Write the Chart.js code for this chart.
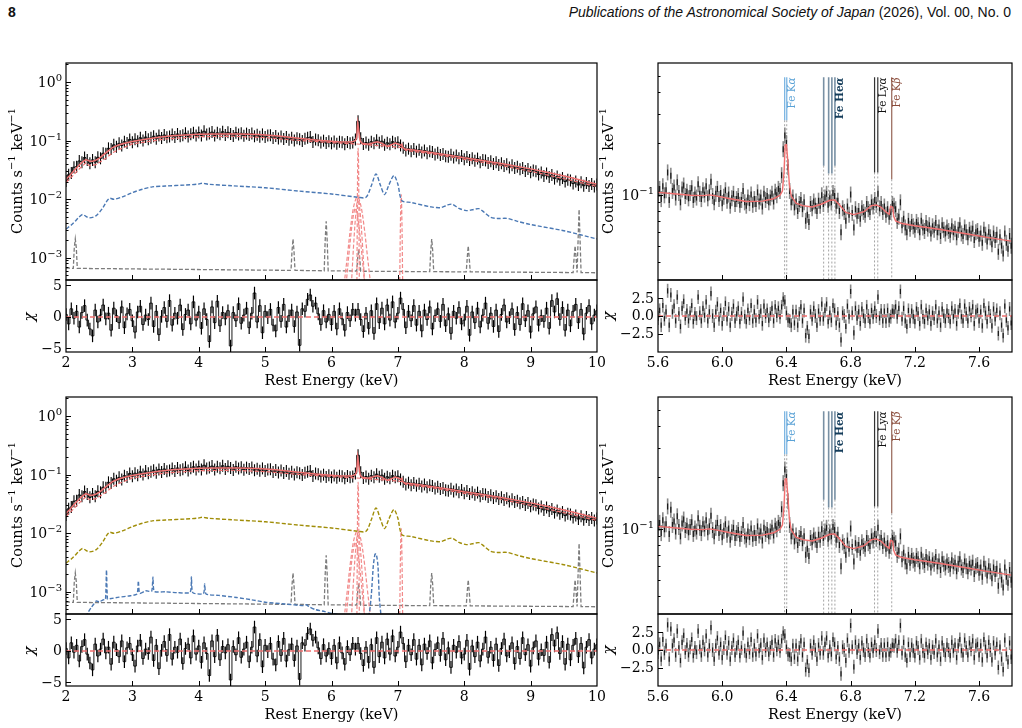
<!DOCTYPE html>
<html><head><meta charset="utf-8">
<script src="https://cdn.jsdelivr.net/npm/chart.js@4.4.1/dist/chart.umd.min.js"></script>
<style>
html,body{margin:0;padding:0;background:#fff;}
body{width:1022px;height:728px;position:relative;overflow:hidden;}
canvas{position:absolute;left:0;top:0;}
.hd{position:absolute;top:4px;font-family:"Liberation Sans",Arial,sans-serif;font-size:14px;color:#111;white-space:nowrap;}
</style></head><body>
<div class="hd" style="left:8px;font-weight:bold;">8</div>
<div class="hd" style="right:11px;"><i>Publications of the Astronomical Society of Japan</i> (2026), Vol. 00, No. 0</div>
<script>
// ===================== DATA =====================
// count-rate arrays are in units of 1e-4 counts s^-1 keV^-1
const U = 1e-4;

// broad-band spectrum 2-10 keV, 0.04 keV bins
const specStart = 2.0, specBin = 0.04;
const specCounts = [205,262,280,352,360,450,430,515,470,410,
470,430,520,500,610,600,740,720,850,790,
900,830,960,910,1050,940,1060,980,1120,1010,
1150,1060,1120,1190,1080,1230,1110,1250,1140,1180,
1270,1150,1300,1190,1240,1340,1180,1290,1360,1220,
1380,1230,1450,1270,1330,1400,1220,1360,1290,1420,
1250,1390,1300,1200,1370,1280,1340,1210,1320,1250,
1320,1190,1260,1170,1280,1150,1230,1240,1110,1200,
1090,1180,1070,1150,1040,1120,1010,1100,1060,990,
1080,1120,1150,950,1050,1020,930,1000,910,980,
900,970,890,960,940,870,950,900,930,1050,
2150,1100,880,930,850,960,900,1020,920,980,
850,920,870,960,900,940,830,760,680,730,
660,720,650,700,630,680,610,660,640,580,
620,570,590,540,530,575,515,560,500,545,
480,525,470,500,455,495,430,470,460,415,
445,400,430,385,410,370,395,350,380,340,
360,325,340,305,330,290,310,300,265,285,
250,275,240,260,225,245,215,230,200,215,
210,185,200,175,195,170,190,168,182,165,178];
const specChi = [0.4,-1.1,1.3,-0.2,0.9,-1.6,0.7,1.8,-0.5,-1.9,
-3.0,1.1,-0.8,0.3,1.9,-0.3,0.6,-2.1,1.4,0.2,
-0.9,1.6,-1.7,0.5,1.2,-0.6,-2.4,0.8,1.7,-1.2,
0.3,-0.4,2.2,-1.5,0.9,-2.8,0.1,1.5,-0.7,2.6,
-1.3,0.6,-0.2,1.9,-2.0,0.4,1.1,-1.1,2.4,-0.5,
0.8,-1.8,1.3,-0.4,-3.9,1.6,-0.9,2.5,-1.4,0.7,
-0.3,1.0,-4.6,0.7,-0.6,2.1,-1.0,0.3,1.4,-1.7,
0.6,3.8,-0.8,1.8,-2.5,0.9,-0.1,1.2,-1.3,-2.2,
1.5,-0.7,2.0,-1.6,0.2,1.1,-1.5,0.8,-4.5,1.3,
0.9,2.8,3.5,1.7,2.2,0.5,-1.2,1.0,-0.8,0.4,
-1.2,0.9,-1.9,1.3,-0.3,-2.1,0.7,-0.6,1.2,0.3,
1.2,-0.4,-2.3,0.6,-1.8,1.0,-2.6,2.1,-0.9,1.4,
-1.1,1.9,-0.5,2.4,-0.8,0.6,3.0,1.2,-1.7,0.9,
-0.6,1.8,-1.3,0.9,-2.2,1.1,-0.4,1.6,-1.9,0.2,
1.3,-0.7,2.0,-1.4,0.5,-2.6,0.9,-0.2,1.5,-1.1,
-0.5,1.7,-2.9,0.8,-0.9,1.4,-1.6,0.3,2.2,-1.0,
0.6,-1.5,1.1,-2.3,0.4,1.9,-0.8,-0.1,1.3,-2.0,
0.7,-1.2,2.1,-0.6,1.0,-2.4,0.5,1.6,-1.3,0.2,
-0.7,1.4,-1.8,2.6,0.8,2.9,-0.4,1.5,-2.1,1.1,
-1.4,0.9,2.0,-0.9,1.2,-2.7,0.6,1.8,-1.1,0.3,1.0];

// total model (solid red)
const modelE = [2.00,2.05,2.10,2.15,2.20,2.25,2.30,2.33,2.36,2.40,2.45,2.50,2.60,2.70,2.80,2.90,3.00,3.20,3.40,3.60,3.80,4.00,4.30,4.60,4.90,5.20,5.50,5.80,6.10,6.30,6.36,6.38,6.395,6.41,6.43,6.46,6.55,6.62,6.69,6.76,6.84,6.90,6.96,7.02,7.045,7.06,7.075,7.10,7.30,7.50,7.80,8.00,8.30,8.60,9.00,9.30,9.60,10.00];
const modelY = [220,250,290,335,385,435,475,460,445,445,465,500,620,760,850,915,970,1060,1140,1210,1255,1285,1305,1300,1270,1200,1100,1020,960,945,1000,1150,2000,1500,1000,900,870,910,960,900,800,850,910,860,830,870,760,720,680,630,560,510,455,400,330,280,235,180];
// reflected/absorbed continuum (dashed red)
const contE = [2.00,2.10,2.20,2.30,2.35,2.45,2.60,2.70,2.80,3.00,3.50,4.00,4.50,5.00,5.50,6.00,6.50,7.00,7.08,7.12,7.50,8.00,8.50,9.00,9.50,10.00];
const contY = [195,250,330,420,375,390,500,620,710,880,1070,1170,1190,1130,1010,930,860,780,760,680,600,480,390,300,225,165];
// plasma component (blue in top row, olive in bottom row)
const compE = [2.00,2.10,2.20,2.25,2.30,2.35,2.45,2.55,2.62,2.66,2.72,2.85,3.00,3.15,3.30,3.50,3.80,4.00,4.05,4.15,4.50,5.00,5.50,6.00,6.40,6.52,6.60,6.67,6.74,6.80,6.86,6.94,7.00,7.06,7.20,7.50,7.65,7.75,7.82,7.92,8.03,8.12,8.22,8.30,8.40,8.50,8.65,8.80,9.00,9.50,10.00];
const compY = [31,38,50,55,51,48,52,70,95,104,100,110,130,148,163,168,175,182,188,180,170,157,138,123,108,108,170,270,170,120,170,255,180,95,88,74,72,80,82,70,64,66,69,60,49,47,47,42,37,29,21];
// second plasma component (blue, bottom row)
const comp2E = [2.26,2.30,2.34,2.38,2.42,2.46,2.50,2.56,2.595,2.61,2.625,2.66,2.80,2.95,3.07,3.09,3.11,3.20,3.29,3.31,3.33,3.50,3.67,3.87,3.89,3.91,4.07,4.09,4.11,4.30,4.57,4.80,5.02,5.30,5.58,5.62,5.66,5.75,5.90,6.00,6.20,6.40,6.55,6.60,6.63,6.655,6.675,6.70,6.72,6.75];
const comp2Y = [3.0,3.8,4.6,5.4,6.2,7.0,6.7,7.3,7.4,23.5,7.5,7.6,8.1,8.5,9.2,15.4,9.4,10.4,10.2,18,10.2,10.0,9.7,9.8,18,9.7,9.3,13.6,9.2,8.7,8.0,7.3,6.6,6.2,5.8,6.0,5.6,5.0,4.6,4.3,3.9,3.6,3.6,9,28,44,44,28,8,3.5];
// scattered component with narrow lines (gray dashed)
const bgE = [2.00,2.11,2.125,2.14,2.155,2.17,5.39,5.405,5.42,5.435,5.45,5.89,5.905,5.92,5.935,5.95,6.38,6.395,6.41,6.425,6.44,7.48,7.495,7.51,7.525,7.54,8.03,8.045,8.06,8.075,8.09,9.64,9.655,9.67,9.685,9.70,9.715,9.73,9.745,9.76,10.00];
const bgY = [6.7,6.6,15,21,15,6.6,6.1,13,21,13,6.1,6.0,20,42,20,6.0,5.95,10,14,10,5.9,5.8,13,21,13,5.8,5.75,10,16,10,5.75,5.6,10,16,10,5.6,20,67,20,5.6,5.55];
// Fe K Gaussian lines (pink dashed)
const gaussAE = [6.19,6.24,6.29,6.34,6.39,6.44,6.49,6.54,6.59], gaussAY = [3.5,11,35,80,110,80,35,11,3.5];
const gaussBE = [6.30,6.335,6.37,6.40,6.43,6.465,6.50], gaussBY = [3.5,18,62,105,62,18,3.5];
const gaussCE = [6.22,6.27,6.32,6.36,6.40,6.45,6.50], gaussCY = [3.5,14,45,70,45,14,3.5];
const coreE = [6.383,6.389,6.395,6.401,6.407,6.413,6.419], coreY = [4,60,450,750,450,60,4];
const kbE = [7.028,7.040,7.050,7.060,7.072], kbY = [4,50,120,50,4];

// Fe K zoom spectrum 5.6-7.8 keV, 0.01 keV bins
const zoomStart = 5.6, zoomBin = 0.01;
const zoomCounts = [1010,1080,940,1120,990,1060,1350,930,1290,1050,
1100,960,1180,1020,900,1070,1130,980,1040,950,
1020,1090,930,1000,960,1150,1010,940,1060,1000,
1120,950,1030,1190,980,900,1010,1080,940,1020,
890,970,1060,920,1000,860,950,1010,880,940,
980,870,930,1050,900,860,960,890,1000,870,
940,880,1030,910,960,850,1010,930,980,900,
960,1010,910,1040,990,1080,1050,1300,1850,2230,
2010,1450,1050,900,960,840,910,800,880,930,
820,900,700,760,690,880,830,910,860,800,
920,860,990,880,960,1010,870,950,900,1020,
980,860,920,800,600,830,790,700,850,760,
1000,780,640,820,750,800,720,830,790,760,
880,820,790,900,850,930,870,1010,830,880,
790,850,760,820,740,790,880,860,820,700,
740,900,660,720,640,600,700,630,690,650,
620,690,660,600,700,640,610,680,630,660,
590,650,620,680,600,640,570,660,620,590,
640,610,580,650,600,630,560,620,660,590,
570,640,600,560,620,590,630,540,600,610,
550,590,520,620,580,530,600,560,510,590,
540,580,460,560,500,450,590,520,480,570,500];
const zoomChi = [-0.3,0.8,-1.3,1.5,-0.4,0.6,3.6,-1.3,3.0,0.6,
1.4,-0.7,2.7,0.3,-1.5,1.1,2.1,-0.3,0.7,-0.7,
0.4,1.5,-0.8,0.3,-0.3,2.7,0.4,-0.7,1.1,0.1,
2.0,-0.7,0.6,3.2,0.0,-1.3,0.6,1.7,-0.4,0.8,
-1.1,0.3,1.8,-0.4,1.0,-1.3,0.3,1.4,-0.7,0.3,
1.1,-0.8,0.3,2.4,-0.1,-0.8,0.8,-0.3,1.5,-0.7,
0.6,-0.6,2.0,-0.1,0.7,-1.1,1.4,0.0,0.8,-0.6,
0.3,1.1,-0.7,1.3,0.1,1.1,-0.1,1.3,2.4,2.0,
0.4,-0.6,-0.7,-1.3,0.6,-1.0,0.6,-1.3,0.3,1.3,
-0.7,0.8,-2.8,-1.7,-2.9,0.6,-0.4,1.1,0.0,-1.3,
0.7,-0.4,1.7,-0.4,0.8,1.7,-0.8,0.4,-0.6,1.5,
0.8,-1.0,0.3,-1.3,-3.4,0.4,0.0,-1.5,1.4,-0.1,
3.5,0.4,-2.4,1.1,-0.3,0.6,-1.1,1.0,0.0,-0.7,
1.3,0.0,-0.8,0.8,-0.1,1.1,0.0,2.7,-0.3,0.7,
-0.7,0.7,-0.7,0.8,-0.6,-0.1,0.7,0.6,1.3,-0.1,
1.1,3.5,-0.4,1.1,-0.7,-1.5,0.8,-0.7,0.7,-0.1,
-0.8,1.0,0.3,-1.1,1.3,-0.1,-0.8,0.8,-0.3,0.6,
-1.1,0.4,-0.3,1.3,-0.7,0.4,-1.3,1.0,0.0,-0.7,
0.7,0.0,-0.8,1.1,-0.1,0.7,-1.1,0.6,1.5,-0.1,
-0.7,1.4,0.3,-0.7,1.0,0.1,1.3,-1.1,0.6,0.8,
-0.7,0.6,-1.4,1.5,0.4,-0.8,1.1,0.0,-1.4,1.0,
-0.4,0.8,-2.5,0.4,-1.3,-2.8,1.4,-0.6,-1.7,1.0,-1.0];
const zModelE = [5.60,5.70,5.80,5.88,5.92,5.96,6.05,6.15,6.25,6.32,6.36,6.375,6.385,6.392,6.40,6.408,6.418,6.43,6.46,6.50,6.56,6.62,6.67,6.70,6.73,6.77,6.82,6.88,6.93,6.96,6.99,7.02,7.04,7.048,7.052,7.062,7.068,7.08,7.12,7.20,7.35,7.50,7.65,7.80];
const zModelY = [1030,1010,990,985,995,982,945,910,915,945,990,1050,1350,1960,1970,1600,1150,980,890,860,845,880,925,930,870,785,762,790,860,868,842,790,765,850,850,842,745,700,675,655,625,592,560,532];

// line identifications (keV) and lower end of the solid marker (counts s^-1 keV^-1)
const feKaE = [6.389,6.402], feKaLow = [0.274,0.274];
const feHeaE = [6.632,6.663,6.683,6.702], feHeaLow = [0.148,0.133,0.133,0.148];
const feLyaE = [6.949,6.969], feLyaLow = [0.135,0.135];
const feKbE = [7.056], feKbLow = [0.123];
const markerTop = 0.49;

// tick values / labels
const specTicks = [2,3,4,5,6,7,8,9,10];
const zoomTicks = [5.6,6.0,6.4,6.8,7.2,7.6];
const zoomTickLabels = ['5.6','6.0','6.4','6.8','7.2','7.6'];
const decades = [1,0.1,0.01,0.001];
const decadeExp = ['0','\u22121','\u22122','\u22123'];
const chiTicksL = [5,0,-5], chiLabelsL = ['5','0','\u22125'];
const chiTicksR = [2.5,0,-2.5], chiLabelsR = ['2.5','0.0','\u22122.5'];

// ===================== DRAWING =====================
const W=1022, H=728;
const SERIF='"DejaVu Serif","Liberation Serif",serif';
const RED='#f07070', BLUE='#4a78b4', OLIVE='#a08d08', GRAY='#7c7c7c', PINK='#f28a8a';
const LMAIN=[2,10,4.18e-4,2.12], LRES=[-5.56,5.87];
const RMAIN=[5.6,7.805,0.0314,0.595], RRES=[-5.14,5.14];

const bins=(s,st,arr,k)=>arr.map((v,i)=>({x:+(s+st*i).toFixed(4),y:v*k}));
const xy=(E,Y,k)=>E.map((e,i)=>({x:e,y:Y[i]*k}));
function L(data,color,w,dash,extra){return Object.assign({data,showLine:true,borderColor:color,backgroundColor:color,borderWidth:w,borderDash:dash||[],pointRadius:0,pointHoverRadius:0,pointHitRadius:0,fill:false,tension:0},extra||{});}
function EB(data,color,r,w){return {data,showLine:false,pointStyle:'line',pointRotation:90,pointRadius:r,pointHoverRadius:r,pointBorderColor:color,pointBackgroundColor:color,pointBorderWidth:w,borderColor:color,backgroundColor:color};}

function fontFor(k,size){
  if(k===1) return Math.round(size*0.7)+'px '+SERIF;
  if(k===2) return 'italic '+size+'px '+SERIF;
  if(k===3) return 'bold '+size+'px '+SERIF;
  if(k===5) return 'italic bold '+size+'px '+SERIF;
  return size+'px '+SERIF;
}
function pw(ctx,parts,size){let w=0;for(const [t,k] of parts){ctx.font=fontFor(k,size);w+=ctx.measureText(t).width;}return w;}
function dp(ctx,parts,x,y,size){let cx=x;for(const [t,k] of parts){ctx.font=fontFor(k,size);ctx.fillText(t,cx,y+(k===1?-size*0.42:0));cx+=ctx.measureText(t).width;}}
function rotParts(ctx,parts,cx,cy,size,mode,color){
  ctx.save();ctx.translate(cx,cy);ctx.rotate(-Math.PI/2);ctx.fillStyle=color||'#000';ctx.textAlign='left';ctx.textBaseline='middle';
  const w=pw(ctx,parts,size);dp(ctx,parts,mode==='end'?-w:-w/2,0,size);ctx.restore();
}
function frame(chart){const c=chart.ctx,a=chart.chartArea;c.save();c.strokeStyle='#000';c.lineWidth=1.2;c.strokeRect(a.left,a.top,a.right-a.left,a.bottom-a.top);c.restore();}
function ticks(chart,axis,vals,len){
  const c=chart.ctx,a=chart.chartArea,s=chart.scales[axis];c.save();c.beginPath();
  vals.forEach(v=>{const p=s.getPixelForValue(v);
    if(axis==='y'){if(p<a.top-0.5||p>a.bottom+0.5)return;const y=Math.round(p)+0.5;c.moveTo(a.left,y);c.lineTo(a.left+len,y);}
    else{if(p<a.left+1||p>a.right-1)return;const x=Math.round(p)+0.5;c.moveTo(x,a.bottom);c.lineTo(x,a.bottom-len);}});
  c.strokeStyle='#000';c.lineWidth=1;c.stroke();c.restore();
}
function ylabels(chart,vals,labels,size){
  const c=chart.ctx,a=chart.chartArea,s=chart.scales.y;c.save();c.fillStyle='#000';c.textAlign='right';c.textBaseline='middle';c.font=size+'px '+SERIF;
  vals.forEach((v,i)=>{c.fillText(labels[i],a.left-4,s.getPixelForValue(v)+0.5);});c.restore();
}
function powLabels(chart,vals,exps,size){
  const c=chart.ctx,a=chart.chartArea,s=chart.scales.y;c.save();c.fillStyle='#000';c.textAlign='left';c.textBaseline='alphabetic';
  vals.forEach((v,i)=>{const y=s.getPixelForValue(v);if(y<a.top-2||y>a.bottom+2)return;const parts=[['10',0],[exps[i],1]];const w=pw(c,parts,size);dp(c,parts,a.left-4-w,y+5,size);});c.restore();
}
function xlabels(chart,vals,labels,size){
  const c=chart.ctx,a=chart.chartArea,s=chart.scales.x;c.save();c.fillStyle='#000';c.textAlign='center';c.textBaseline='alphabetic';c.font=size+'px '+SERIF;
  vals.forEach((v,i)=>{c.fillText(labels[i],s.getPixelForValue(v),a.bottom+15);});
  c.font='14.5px '+SERIF;c.fillText('Rest Energy (keV)',(a.left+a.right)/2,a.bottom+33);c.restore();
}
function minorLog(lo,hi){const out=[];for(let d=-5;d<=1;d++){for(let m=2;m<=9;m++){const v=m*Math.pow(10,d);if(v>lo&&v<hi)out.push(v);}}return out;}
const YTITLE=[['Counts s',0],['\u22121',1],[' keV',0],['\u22121',1]];

function mk(rect,xr,yr,ylog,datasets,deco){
  const c=document.createElement('canvas');c.width=W;c.height=H;c.style.width=W+'px';c.style.height=H+'px';document.body.appendChild(c);
  return new Chart(c,{type:'scatter',data:{datasets},options:{
    responsive:false,animation:false,events:[],devicePixelRatio:1,
    layout:{padding:{left:rect[0],top:rect[1],right:W-rect[2],bottom:H-rect[3]}},
    plugins:{legend:{display:false},tooltip:{enabled:false}},
    scales:{x:{type:'linear',display:false,min:xr[0],max:xr[1]},y:{type:ylog?'logarithmic':'linear',display:false,min:yr[0],max:yr[1]}}
  },plugins:[{id:'deco',afterDraw:deco}]});
}

function buildRow(off,bottomRow){
  const specPts=bins(specStart,specBin,specCounts,U);
  const chiPts=bins(specStart,specBin,specChi,1);
  const gs={tension:0.35};
  const comps=bottomRow
    ?[L(xy(comp2E,comp2Y,U),BLUE,1.4,[4,2],{tension:0.2}),L(xy(compE,compY,U),OLIVE,1.4,[4,2],{tension:0.3})]
    :[L(xy(compE,compY,U),BLUE,1.4,[4,2],{tension:0.3})];
  // ---- broad-band main panel
  mk([66,63+off,597,280+off],[LMAIN[0],LMAIN[1]],[LMAIN[2],LMAIN[3]],true,[
    L(xy(modelE,modelY,U),RED,1.5),
    L(xy(contE,contY,U),RED,1.2,[4,2]),
    ...comps,
    L(xy(gaussAE,gaussAY,U),PINK,1.2,[4,2],gs),
    L(xy(gaussBE,gaussBY,U),PINK,1.2,[4,2],gs),
    L(xy(gaussCE,gaussCY,U),PINK,1.2,[4,2],gs),
    L(xy(coreE,coreY,U),PINK,1.2,[4,2],gs),
    L(xy(kbE,kbY,U),PINK,1.2,[4,2],gs),
    L(xy(bgE,bgY,U),GRAY,1.3,[4,2]),
    EB(specPts,'#000',6,1.1),
    L(specPts,'#000',1,[],{stepped:'middle'})
  ],chart=>{
    frame(chart);
    ticks(chart,'y',decades,5);ticks(chart,'y',minorLog(LMAIN[2],LMAIN[3]),2.5);ticks(chart,'x',specTicks,5);
    powLabels(chart,decades,decadeExp,14);
    rotParts(chart.ctx,YTITLE,18,171+off,14.5);
  });
  // ---- broad-band residuals
  mk([66,280+off,597,352+off],[LMAIN[0],LMAIN[1]],LRES,false,[
    L([{x:LMAIN[0],y:0},{x:LMAIN[1],y:0}],RED,1.3,[5,3]),
    EB(chiPts,'#000',6.3,1.2),
    L(chiPts,'#000',0.9,[],{stepped:'middle'})
  ],chart=>{
    frame(chart);ticks(chart,'y',chiTicksL,5);ticks(chart,'x',specTicks,5);
    ylabels(chart,chiTicksL,chiLabelsL,14);
    xlabels(chart,specTicks,specTicks.map(String),14);
    rotParts(chart.ctx,[['\u03c7',2]],30,317+off,15);
  });
  // ---- Fe K zoom main panel
  const zPts=bins(zoomStart,zoomBin,zoomCounts,U);
  const mset=[];
  const addM=(E,low,col,w)=>E.forEach((e,i)=>{mset.push(L([{x:e,y:markerTop},{x:e,y:low[i]}],col,w));mset.push(L([{x:e,y:low[i]},{x:e,y:RMAIN[2]}],'#9a9a9a',0.9,[2,2]));});
  addM(feKaE,feKaLow,'#7db6e2',1.3);addM(feHeaE,feHeaLow,'#7890a4',1.6);addM(feLyaE,feLyaLow,'#333',1.2);addM(feKbE,feKbLow,'#8c5646',1.1);
  mk([658,63+off,1012,280+off],[RMAIN[0],RMAIN[1]],[RMAIN[2],RMAIN[3]],true,[
    L(xy(zModelE,zModelY,U),RED,1.4),
    EB(zPts,'#1a1a1a',3,1.2),
    EB(zPts,'#8a8a8a',8,1.6),
    ...mset
  ],chart=>{
    frame(chart);
    ticks(chart,'y',[0.1],5);ticks(chart,'y',minorLog(RMAIN[2],RMAIN[3]),2.5);ticks(chart,'x',zoomTicks,5);
    powLabels(chart,[0.1],['\u22121'],14);
    rotParts(chart.ctx,YTITLE,609,171+off,14.5);
    const c=chart.ctx,sx=chart.scales.x,sy=chart.scales.y,yT=sy.getPixelForValue(markerTop);
    const lab=(E,parts,col)=>rotParts(c,parts,sx.getPixelForValue(Math.max(...E))+5.5,yT,10.5,'end',col);
    lab(feKaE,[['Fe K',0],['\u03b1',2]],'#5aa2d6');
    lab(feHeaE,[['Fe He',3],['\u03b1',5]],'#143c5a');
    lab(feLyaE,[['Fe Ly',0],['\u03b1',2]],'#111');
    lab(feKbE,[['Fe K',0],['\u03b2',2]],'#8a4b3a');
  });
  // ---- Fe K zoom residuals
  const zc=bins(zoomStart,zoomBin,zoomChi,1);
  mk([658,280+off,1012,352+off],[RMAIN[0],RMAIN[1]],RRES,false,[
    L([{x:RMAIN[0],y:0},{x:RMAIN[1],y:0}],RED,1.3,[5,3]),
    EB(zc,'#1a1a1a',2.6,1.2),
    EB(zc,'#8a8a8a',7,1.6)
  ],chart=>{
    frame(chart);ticks(chart,'y',chiTicksR,5);ticks(chart,'x',zoomTicks,5);
    ylabels(chart,chiTicksR,chiLabelsR,14);
    xlabels(chart,zoomTicks,zoomTickLabels,14);
    rotParts(chart.ctx,[['\u03c7',2]],609,316+off,15);
  });
}
buildRow(0,false);
buildRow(334,true);
</script></body></html>
